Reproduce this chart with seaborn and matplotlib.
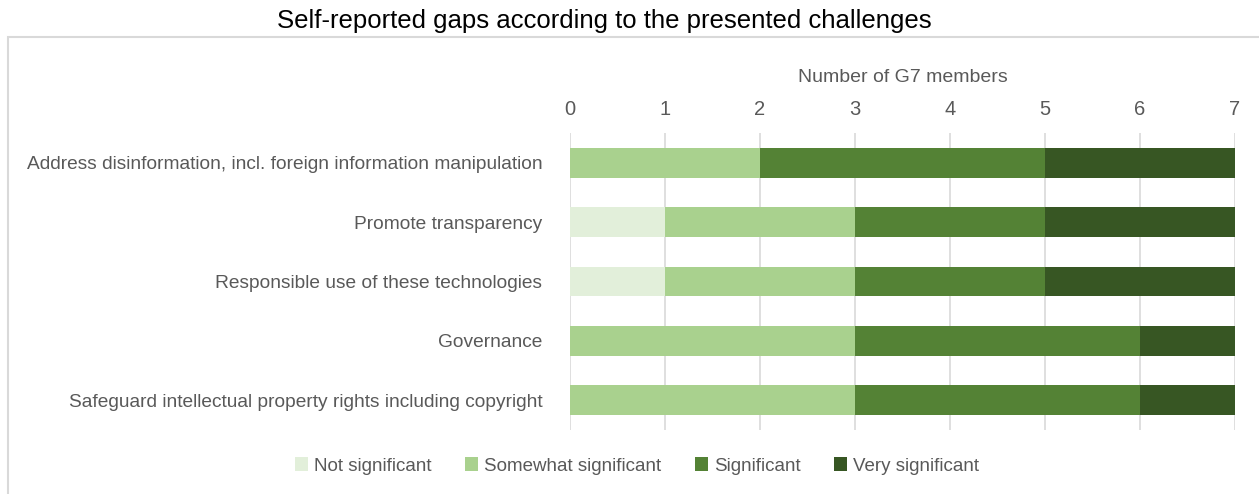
import matplotlib
matplotlib.use("Agg")
import matplotlib.pyplot as plt
import seaborn as sns
import pandas as pd
import numpy as np
from matplotlib.patches import Rectangle, Patch

categories = [
    "Address disinformation, incl. foreign information manipulation",
    "Promote transparency",
    "Responsible use of these technologies",
    "Governance",
    "Safeguard intellectual property rights including copyright",
]
not_significant = [0, 1, 1, 0, 0]
somewhat_significant = [2, 2, 2, 3, 3]
significant = [3, 2, 2, 3, 3]
very_significant = [2, 2, 2, 1, 1]
series_names = ["Not significant", "Somewhat significant", "Significant", "Very significant"]
colors = ["#E2EFDA", "#A9D18E", "#548235", "#375623"]
x_ticks = [0, 1, 2, 3, 4, 5, 6, 7]

sns.set_theme(style="white")
FONT = ["Liberation Sans Narrow", "Liberation Sans", "DejaVu Sans"]
plt.rcParams["font.family"] = FONT

fig = plt.figure(figsize=(12.59, 4.94), dpi=100)
ax = fig.add_axes([570 / 1259, 1 - 430 / 494, (1235 - 570) / 1259, (430 - 133) / 494])

series = [not_significant, somewhat_significant, significant, very_significant]
cum = np.cumsum(np.array(series), axis=0)
df = pd.DataFrame({"category": categories})
for i in range(len(series) - 1, -1, -1):
    df["val"] = cum[i]
    sns.barplot(data=df, x="val", y="category", orient="h", color=colors[i],
                width=0.5, ax=ax, saturation=1, edgecolor="none", linewidth=0, zorder=3)

ax.set_xlim(0, 7)
ax.set_ylim(4.5, -0.5)
ax.set_xticks(x_ticks)
ax.xaxis.tick_top()
ax.xaxis.set_label_position("top")
ax.set_xlabel("Number of G7 members", fontsize=14, color="#595959", labelpad=13)
ax.set_ylabel("")
ax.tick_params(axis="x", length=0, pad=10, labelsize=14.5, labelcolor="#595959")
ax.tick_params(axis="y", length=0, pad=20, labelsize=13.8, labelcolor="#595959")
for lbl in ax.get_xticklabels() + ax.get_yticklabels():
    lbl.set_family(FONT)
ax.xaxis.label.set_family(FONT)
ax.grid(axis="x", color="#D9D9D9", linewidth=1.2, zorder=0)
ax.set_axisbelow(True)
for s in ax.spines.values():
    s.set_visible(False)

fig.text(0.48, 1 - 21 / 494, "Self-reported gaps according to the presented challenges",
         ha="center", va="center", fontsize=18.5, color="black", family=FONT)

fig.patches.append(Rectangle((8 / 1259, -0.05), 1.1, 1 - 37 / 494 + 0.05,
                             transform=fig.transFigure, fill=False,
                             edgecolor="#D9D9D9", linewidth=1.5))

handles = [Patch(facecolor=c, edgecolor="none") for c in colors]
leg = fig.legend(handles, series_names, loc="center", bbox_to_anchor=(0.506, 1 - 466 / 494),
                 ncol=4, frameon=False, handlelength=0.7, handleheight=0.7,
                 handletextpad=0.3, columnspacing=1.8, prop={"family": FONT, "size": 13.5})
for t in leg.get_texts():
    t.set_color("#595959")

fig.savefig("out.png", dpi=100)
